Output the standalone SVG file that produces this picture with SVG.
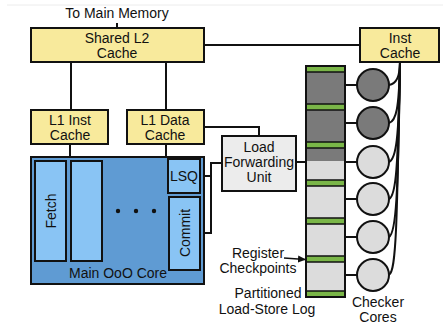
<svg xmlns="http://www.w3.org/2000/svg" width="443" height="327" viewBox="0 0 443 327">
<defs>
<style>
text{font-family:"Liberation Sans",Arial,sans-serif;font-size:14px;fill:#111;text-anchor:middle}
.y{fill:#f8ea9c;stroke:#111;stroke-width:2}
.w{fill:none;stroke:#111;stroke-width:2}
.lb{fill:#89c4f4;stroke:#111;stroke-width:2}
.lg{fill:#dcdcdc}
.dg{fill:#7a7a7a}
.gr{fill:#7ab648}
.cl{stroke:#111;stroke-width:2}
</style>
<marker id="ah" markerWidth="8" markerHeight="8" refX="7" refY="4" orient="auto" markerUnits="userSpaceOnUse">
<path d="M0,0.5 L8,4 L0,7.5 Z" fill="#111"/>
</marker>
</defs>
<rect width="443" height="327" fill="#fff"/>
<line x1="7" y1="5" x2="443" y2="5" stroke="#ececec" stroke-width="1"/>

<g id="connectors" class="w" fill="none">
<line x1="117" y1="23" x2="117" y2="28"/>
<line x1="71" y1="62" x2="71" y2="110"/>
<line x1="166" y1="62" x2="166" y2="110"/>
<line x1="204" y1="45" x2="360" y2="45"/>
<line x1="70" y1="144" x2="70" y2="157"/>
<line x1="166" y1="144" x2="166" y2="157"/>
<polyline points="204,127 259,127 259,136"/>
<polyline points="201,176 211,176"/>
<polyline points="201,233 211,233 211,163 222,163"/>
<line x1="296" y1="162" x2="306" y2="162"/>
<line x1="345" y1="85" x2="357" y2="85"/>
<line x1="345" y1="123" x2="357" y2="123"/>
<line x1="345" y1="162" x2="357" y2="162"/>
<line x1="345" y1="199" x2="357" y2="199"/>
<line x1="345" y1="237" x2="357" y2="237"/>
<line x1="345" y1="275" x2="357" y2="275"/>
<path d="M389,85 C396,84 400,78 400,62"/>
<path d="M389,123 C396,121 399,110 400,62"/>
<path d="M389,162 C396,159 399,140 400,62"/>
<path d="M389,199 C396,196 398,170 400,62"/>
<path d="M389,237 C396,233 398,200 400,62"/>
<path d="M389,275 C396,271 397,230 400,62"/>
<path d="M284,258 L305,259.5" stroke-width="1.5" marker-end="url(#ah)"/>
</g>

<text x="117" y="18">To Main Memory</text>

<g id="l2">
<rect class="y" x="31" y="28" width="173" height="34"/>
<text x="117" y="43">Shared L2</text>
<text x="117" y="58">Cache</text>
</g>

<g id="instcache">
<rect class="y" x="360" y="28" width="79" height="34"/>
<text x="400" y="43">Inst</text>
<text x="400" y="58">Cache</text>
</g>

<g id="l1i">
<rect class="y" x="31" y="110" width="77" height="34"/>
<text x="70" y="125">L1 Inst</text>
<text x="70" y="140">Cache</text>
</g>

<g id="l1d">
<rect class="y" x="127" y="110" width="77" height="34"/>
<text x="165" y="125">L1 Data</text>
<text x="165" y="140">Cache</text>
</g>

<g id="lfu">
<rect x="222" y="136" width="74" height="55" fill="#ececec" stroke="#111" stroke-width="2"/>
<text x="259" y="152">Load</text>
<text x="259" y="167">Forwarding</text>
<text x="259" y="182">Unit</text>
</g>

<g id="core">
<rect x="31" y="157" width="173" height="127" fill="#5f9bd3" stroke="#111" stroke-width="2"/>
<rect class="lb" x="35" y="161" width="31" height="100"/>
<text transform="translate(56,211) rotate(-90)">Fetch</text>
<rect class="lb" x="71" y="161" width="31" height="100"/>
<circle cx="118" cy="211" r="2.2" fill="#111"/>
<circle cx="136" cy="211" r="2.2" fill="#111"/>
<circle cx="154" cy="211" r="2.2" fill="#111"/>
<rect class="lb" x="168" y="159" width="32" height="34"/>
<text x="184" y="181">LSQ</text>
<rect class="lb" x="169" y="197" width="31" height="73"/>
<text transform="translate(190,233) rotate(-90)">Commit</text>
<text x="118" y="278">Main OoO Core</text>
</g>

<g id="log">
<rect class="lg" x="306" y="66" width="39" height="231"/>
<rect class="dg" x="306" y="66" width="39" height="95"/>
<rect class="gr" x="306" y="66" width="39" height="6"/>
<rect class="gr" x="306" y="104" width="39" height="6"/>
<rect class="gr" x="306" y="142" width="39" height="6"/>
<rect class="gr" x="306" y="180" width="39" height="6"/>
<rect class="gr" x="306" y="218" width="39" height="6"/>
<rect class="gr" x="306" y="256" width="39" height="6"/>
<rect class="gr" x="306" y="291" width="39" height="6"/>
<g stroke="#111" stroke-width="1.5">
<line x1="306" y1="72" x2="345" y2="72"/><line x1="306" y1="104" x2="345" y2="104"/>
<line x1="306" y1="110" x2="345" y2="110"/><line x1="306" y1="142" x2="345" y2="142"/>
<line x1="306" y1="148" x2="345" y2="148"/><line x1="306" y1="180" x2="345" y2="180"/>
<line x1="306" y1="186" x2="345" y2="186"/><line x1="306" y1="218" x2="345" y2="218"/>
<line x1="306" y1="224" x2="345" y2="224"/><line x1="306" y1="256" x2="345" y2="256"/>
<line x1="306" y1="262" x2="345" y2="262"/><line x1="306" y1="291" x2="345" y2="291"/>
</g>
<rect x="306" y="66" width="39" height="231" fill="none" stroke="#111" stroke-width="2"/>
</g>

<g id="checkers">
<circle cx="373" cy="85" r="16" fill="#7a7a7a" class="cl"/>
<circle cx="373" cy="123" r="16" fill="#7a7a7a" class="cl"/>
<circle cx="373" cy="162" r="16" fill="#dcdcdc" class="cl"/>
<circle cx="373" cy="199" r="16" fill="#dcdcdc" class="cl"/>
<circle cx="373" cy="237" r="16" fill="#dcdcdc" class="cl"/>
<circle cx="373" cy="275" r="16" fill="#dcdcdc" class="cl"/>
</g>

<g id="labels">
<text x="258" y="258">Register</text>
<text x="258" y="273">Checkpoints</text>
<text x="268" y="298">Partitioned</text>
<text x="267" y="314">Load-Store Log</text>
<text x="378" y="307">Checker</text>
<text x="378" y="322">Cores</text>
</g>
</svg>
